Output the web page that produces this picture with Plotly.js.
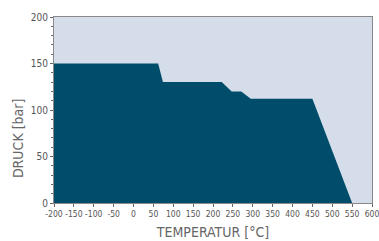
<!DOCTYPE html>
<html>
<head>
<meta charset="utf-8">
<script src="https://cdn.plot.ly/plotly-3.0.1.min.js"></script>
<style>html,body{margin:0;padding:0;background:#fff;}#chart{width:379px;height:241px;}</style>
</head>
<body>
<div id="chart"></div>
<script>
const temperature = [-200, 62, 74, 222, 247, 271, 295, 450, 550];
const pressure = [150, 150, 130, 130, 120, 120, 112, 112, 0];
const xTicks = [-200, -150, -100, -50, 0, 50, 100, 150, 200, 250, 300, 350, 400, 450, 500, 550, 600];
const yTicks = [0, 50, 100, 150, 200];

const fontFam = '"DejaVu Sans Condensed", "Liberation Sans Narrow", sans-serif';

Plotly.newPlot('chart', [{
  x: temperature,
  y: pressure,
  type: 'scatter',
  mode: 'lines',
  fill: 'tozeroy',
  fillcolor: '#004d6b',
  line: {width: 0, color: '#004d6b'},
  hoverinfo: 'skip'
}], {
  width: 379, height: 241,
  margin: {l: 54, r: 7, t: 17, b: 38},
  paper_bgcolor: '#ffffff',
  plot_bgcolor: '#d4dde9',
  showlegend: false,
  font: {family: fontFam, color: '#555555', size: 10},
  xaxis: {
    range: [-200, 600],
    tickvals: xTicks,
    ticktext: xTicks.map(String),
    tickangle: 0,
    ticklabeloverflow: 'allow',
    ticks: 'outside', ticklen: 3, tickcolor: '#666',
    showgrid: false, zeroline: false,
    showline: true, mirror: true, linecolor: '#888', linewidth: 1,
    tickfont: {family: fontFam, size: 8.5, color: '#555'},
    title: {text: 'TEMPERATUR [°C]', font: {family: fontFam, size: 14, color: '#666'}, standoff: 8}
  },
  yaxis: {
    range: [0, 200],
    tickvals: yTicks,
    ticktext: yTicks.map(String),
    ticks: 'outside', ticklen: 3, tickcolor: '#666',
    minor: {dtick: 10, ticks: 'outside', ticklen: 2, tickcolor: '#666', showgrid: false},
    showgrid: false, zeroline: false,
    showline: true, mirror: true, linecolor: '#888', linewidth: 1,
    tickfont: {family: fontFam, size: 10, color: '#555'}
  },
  annotations: [{
    text: 'DRUCK [bar]', textangle: -90, showarrow: false,
    xref: 'paper', yref: 'paper', x: -0.113, y: 0.344,
    xanchor: 'center', yanchor: 'middle',
    font: {family: fontFam, size: 14, color: '#666'}
  }]
}, {displayModeBar: false, staticPlot: true});
</script>
</body>
</html>
